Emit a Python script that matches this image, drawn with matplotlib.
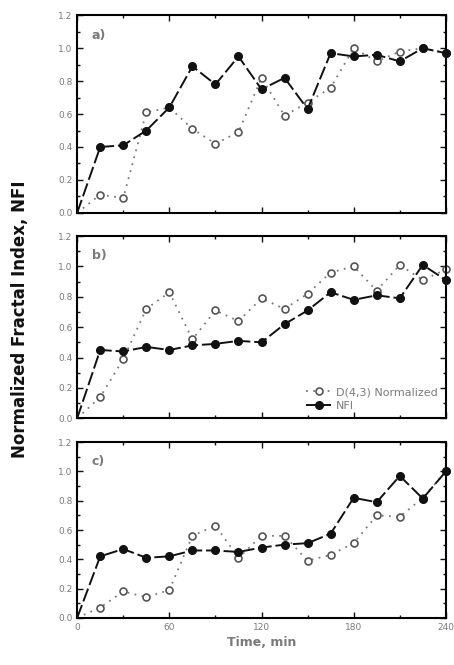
import numpy as np
import matplotlib.pyplot as plt
from matplotlib.ticker import MultipleLocator

time = [0, 15, 30, 45, 60, 75, 90, 105, 120, 135, 150, 165, 180, 195, 210, 225, 240]

nfi_a = [0.0, 0.40, 0.41, 0.50, 0.64, 0.89, 0.78, 0.95, 0.75, 0.82, 0.63, 0.97, 0.95, 0.96, 0.92, 1.00, 0.97]
d43_a = [0.0, 0.11, 0.09, 0.61, 0.64, 0.51, 0.42, 0.49, 0.82, 0.59, 0.67, 0.76, 1.00, 0.92, 0.98, 1.00, 0.97]

nfi_b = [0.0, 0.45, 0.44, 0.47, 0.45, 0.48, 0.49, 0.51, 0.50, 0.62, 0.71, 0.83, 0.78, 0.81, 0.79, 1.01, 0.91]
d43_b = [0.0, 0.14, 0.39, 0.72, 0.83, 0.52, 0.71, 0.64, 0.79, 0.72, 0.82, 0.96, 1.00, 0.84, 1.01, 0.91, 0.98]

nfi_c = [0.0, 0.42, 0.47, 0.41, 0.42, 0.46, 0.46, 0.45, 0.48, 0.50, 0.51, 0.575, 0.82, 0.79, 0.97, 0.815, 1.00]
d43_c = [0.0, 0.07, 0.18, 0.14, 0.19, 0.56, 0.63, 0.41, 0.56, 0.56, 0.39, 0.43, 0.51, 0.70, 0.69, 0.82, 1.00]

panels = [('a)', nfi_a, d43_a), ('b)', nfi_b, d43_b), ('c)', nfi_c, d43_c)]

fig = plt.figure(figsize=(4.54, 6.65), dpi=100, facecolor='white')

# axes boxes in figure fractions (left, bottom, width, height)
boxes = [(0.170, 0.680, 0.812, 0.297),
         (0.170, 0.371, 0.812, 0.274),
         (0.170, 0.071, 0.812, 0.264)]

GRAY = '#7a7a7a'
DARK = '#111111'

for i, ((lab, nfi, d43), box) in enumerate(zip(panels, boxes)):
    ax = fig.add_axes(box)
    ax.plot(time, d43, linestyle=(0, (1, 3)), color=GRAY, lw=1.3,
            marker='o', ms=5, mfc='white', mec='#555555', mew=1.2,
            markevery=range(1, len(time)),
            label='D(4,3) Normalized', clip_on=False, zorder=2)
    ax.plot(time, nfi, linestyle=(0, (7, 2)), color=DARK, lw=1.4,
            marker='o', ms=5.5, mfc=DARK, mec=DARK,
            markevery=range(1, len(time)),
            label='NFI', clip_on=False, zorder=3)
    ax.set_xlim(0, 240)
    ax.set_ylim(0, 1.2)
    ax.xaxis.set_major_locator(MultipleLocator(60))
    ax.xaxis.set_minor_locator(MultipleLocator(30))
    ax.yaxis.set_major_locator(MultipleLocator(0.2))
    ax.yaxis.set_minor_locator(MultipleLocator(0.1))
    ax.yaxis.set_major_formatter(plt.FuncFormatter(lambda v, p: f'{v:.1f}'))
    ax.tick_params(which='both', direction='in', top=True, right=True,
                   colors=DARK, labelcolor=GRAY, labelsize=6.5, width=1)
    ax.tick_params(which='major', length=4)
    ax.tick_params(which='minor', length=2.5)
    for s in ax.spines.values():
        s.set_linewidth(1.5)
    if i < 2:
        ax.tick_params(labelbottom=False)
    ax.text(0.04, 0.93, lab, transform=ax.transAxes, ha='left', va='top',
            fontsize=9, fontweight='bold', color=GRAY)
    if i == 1:
        ax.legend(loc='lower right', frameon=False, fontsize=8,
                  labelcolor=GRAY, handlelength=2.2, borderaxespad=0.3,
                  handletextpad=0.5, labelspacing=0.3)
    if i == 2:
        ax.set_xlabel('Time, min', fontsize=9, fontweight='bold', color=GRAY,
                      labelpad=3)

fig.text(0.045, 0.52, 'Normalized Fractal Index, NFI', rotation=90,
         ha='center', va='center', fontsize=12, fontweight='bold', color=DARK)

plt.savefig('out.png', dpi=100, facecolor='white')
